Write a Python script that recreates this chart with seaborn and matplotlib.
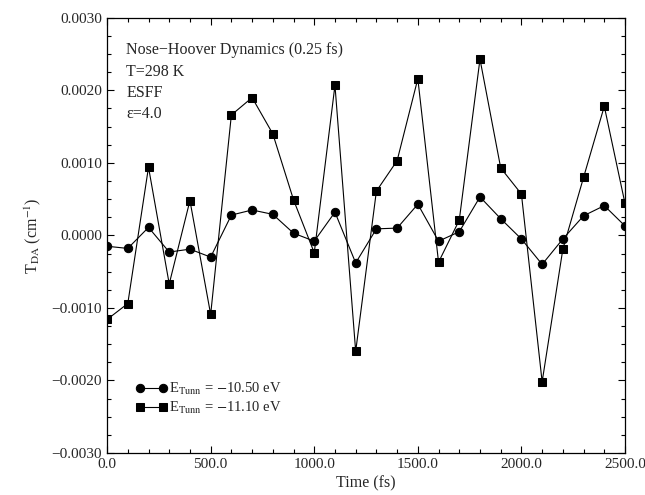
import numpy as np
import pandas as pd
import matplotlib
matplotlib.use("Agg")
import matplotlib.pyplot as plt
import seaborn as sns
from matplotlib.ticker import MultipleLocator, FuncFormatter

# values
time_fs = list(range(0, 2600, 100))
t_da_1050 = [-0.00015, -0.00018, 0.00011, -0.00023, -0.00019, -0.00030, 0.00028,
             0.00035, 0.00029, 0.00003, -0.00008, 0.00032, -0.00038, 0.00009,
             0.00010, 0.00043, -0.00008, 0.00005, 0.00053, 0.00023, -0.00005,
             -0.00040, -0.00005, 0.00027, 0.00041, 0.00013]
t_da_1110 = [-0.00116, -0.00094, 0.00094, -0.00067, 0.00048, -0.00109, 0.00166,
             0.00190, 0.00140, 0.00049, -0.00024, 0.00207, -0.00160, 0.00061,
             0.00103, 0.00216, -0.00037, 0.00021, 0.00243, 0.00093, 0.00057,
             -0.00202, -0.00019, 0.00080, 0.00178, 0.00044]
labels = [r"E$_{\rm Tunn}$ = $-$10.50 eV", r"E$_{\rm Tunn}$ = $-$11.10 eV"]
notes = ["Nose\u2212Hoover Dynamics (0.25 fs)", "T=298 K", "ESFF", "\u03b5=4.0"]

sns.set_style("ticks")
plt.rcParams['font.family'] = ['Liberation Serif', 'DejaVu Serif']
plt.rcParams['mathtext.fontset'] = 'stix'

df1 = pd.DataFrame({"t": time_fs, "v": t_da_1050})
df2 = pd.DataFrame({"t": time_fs, "v": t_da_1110})

fig = plt.figure(figsize=(6.45, 4.95), dpi=100)
ax = fig.add_axes([0.166, 0.085, 0.803, 0.879])

sns.lineplot(data=df1, x="t", y="v", ax=ax, color="black", lw=0.8,
             marker="o", markersize=6, markeredgecolor="black", label=labels[0])
sns.lineplot(data=df2, x="t", y="v", ax=ax, color="black", lw=0.8,
             marker="s", markersize=5.5, markeredgecolor="black", label=labels[1])

ax.set_xlim(0, 2500)
ax.set_ylim(-0.003, 0.003)
ax.xaxis.set_major_locator(MultipleLocator(500))
ax.xaxis.set_minor_locator(MultipleLocator(100))
ax.yaxis.set_major_locator(MultipleLocator(0.001))
ax.yaxis.set_minor_locator(MultipleLocator(0.00025))
ax.xaxis.set_major_formatter(FuncFormatter(lambda v, p: ("%.1f" % v).replace("-", "\u2212")))
ax.yaxis.set_major_formatter(FuncFormatter(lambda v, p: ("%.4f" % (0.0 if abs(v) < 1e-9 else v)).replace("-", "\u2212")))
ax.tick_params(which="both", direction="in", top=True, right=True,
               labelsize=11, color="black", width=0.8)
ax.tick_params(which="major", length=5)
ax.tick_params(which="minor", length=3)
for s in ax.spines.values():
    s.set_linewidth(0.9)
    s.set_color("black")

ax.set_xlabel("Time (fs)", fontsize=11.5, labelpad=3)
ax.set_ylabel(r"T$_{\rm DA}$ (cm$^{-1}$)", fontsize=11.5, labelpad=6)

for i, n in enumerate(notes):
    ax.text(0.037, 0.925 - i * 0.049, n, transform=ax.transAxes, fontsize=11.5,
            va="center", ha="left")

ax.legend(loc="lower left", bbox_to_anchor=(0.03, 0.055), frameon=False,
          numpoints=2, handlelength=2.2, handletextpad=0.1, labelspacing=0.2,
          fontsize=10.5)

fig.savefig("out.png", dpi=100)
